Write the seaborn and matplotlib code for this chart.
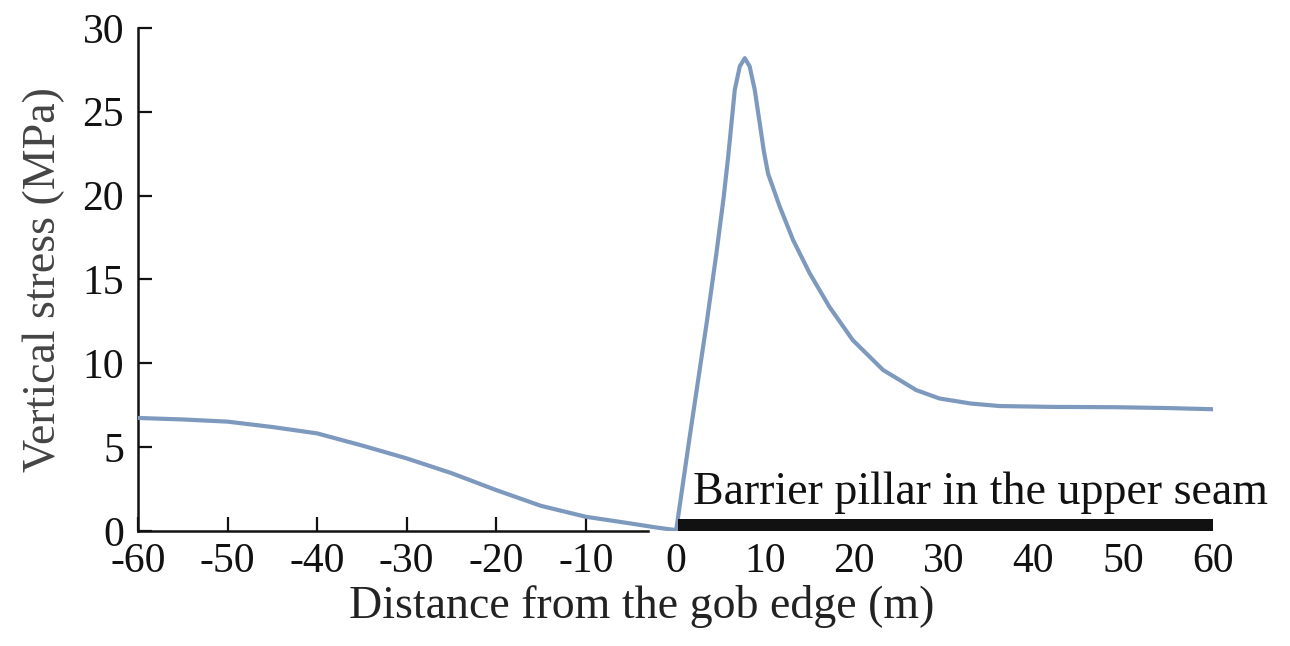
import matplotlib
matplotlib.use("Agg")
import matplotlib.pyplot as plt
import seaborn as sns
import pandas as pd

# vertical stress profile
distance = [-60, -55, -50, -45, -40, -35, -30, -25, -20, -15, -10, -5, -2, -0.3,
            0.1, 1.6, 3.5, 4.6, 5.4, 5.9, 6.27, 6.64, 7.2, 7.76, 8.3, 8.87,
            9.43, 9.9, 10.36, 11.66, 13.15, 15.0, 17.2, 19.8, 23.2, 26.9, 29.5, 33,
            36.2, 42, 49.2, 55, 60]
stress = [6.74, 6.65, 6.52, 6.2, 5.82, 5.1, 4.33, 3.45, 2.44, 1.5, 0.85, 0.45, 0.2, 0.08,
          0.06, 5.6, 12.4, 16.6, 19.9, 22.3, 24.3, 26.3, 27.7, 28.19, 27.7, 26.3,
          24.3, 22.6, 21.3, 19.34, 17.35, 15.37, 13.37, 11.39, 9.6, 8.4, 7.9, 7.6,
          7.45, 7.4, 7.38, 7.33, 7.26]

pillar_x = [0.3, 60]
pillar_height = 0.7
pillar_label = "Barrier pillar in the upper seam"

x_ticks = list(range(-60, 61, 10))
y_ticks = list(range(0, 31, 5))

df = pd.DataFrame({"Distance": distance, "Stress": stress})

sns.set_style("ticks")
plt.rcParams["font.family"] = ["Liberation Serif", "DejaVu Serif"]
plt.rcParams["axes.unicode_minus"] = False

fig = plt.figure(figsize=(12.9, 6.46), dpi=100)
ax = fig.add_axes([0.107, 0.178, 0.833, 0.779])

# the stress curve
sns.lineplot(data=df, x="Distance", y="Stress", ax=ax, sort=False, estimator=None,
             color="#7e99be", linewidth=3.0, zorder=4)
ax.lines[0].set_solid_joinstyle("round")

# barrier pillar bar along the axis
ax.fill_between(pillar_x, 0, pillar_height, color="#111111", zorder=5, clip_on=False,
                linewidth=0)
ax.text(2.0, 1.6, pillar_label, fontsize=33, color="#111111", ha="left", va="baseline")

ax.set_xlim(-60, 60)
ax.set_ylim(0, 30)
ax.set_xticks(x_ticks)
ax.set_yticks(y_ticks)
ax.tick_params(axis="both", direction="in", length=10, width=1.6, labelsize=30,
               colors="#111111")
ax.tick_params(axis="x", pad=8)
ax.tick_params(axis="y", pad=10)

# ticks under the pillar are hidden
for tick, loc in zip(ax.xaxis.get_major_ticks(), x_ticks):
    if loc >= 0:
        tick.tick1line.set_visible(False)

sns.despine(ax=ax)
ax.spines["left"].set_linewidth(1.8)
ax.spines["bottom"].set_linewidth(1.8)
ax.spines["left"].set_color("#111111")
ax.spines["bottom"].set_color("#111111")
ax.spines["bottom"].set_bounds(-60, -3)

ax.set_xlabel("Distance from the gob edge (m)", fontsize=33, color="#222222")
ax.xaxis.set_label_coords(0.469, -0.108)
ax.set_ylabel("Vertical stress (MPa)", fontsize=33, color="#444444")
ax.yaxis.set_label_coords(-0.068, 0.5)

fig.savefig("out.png", dpi=100)
